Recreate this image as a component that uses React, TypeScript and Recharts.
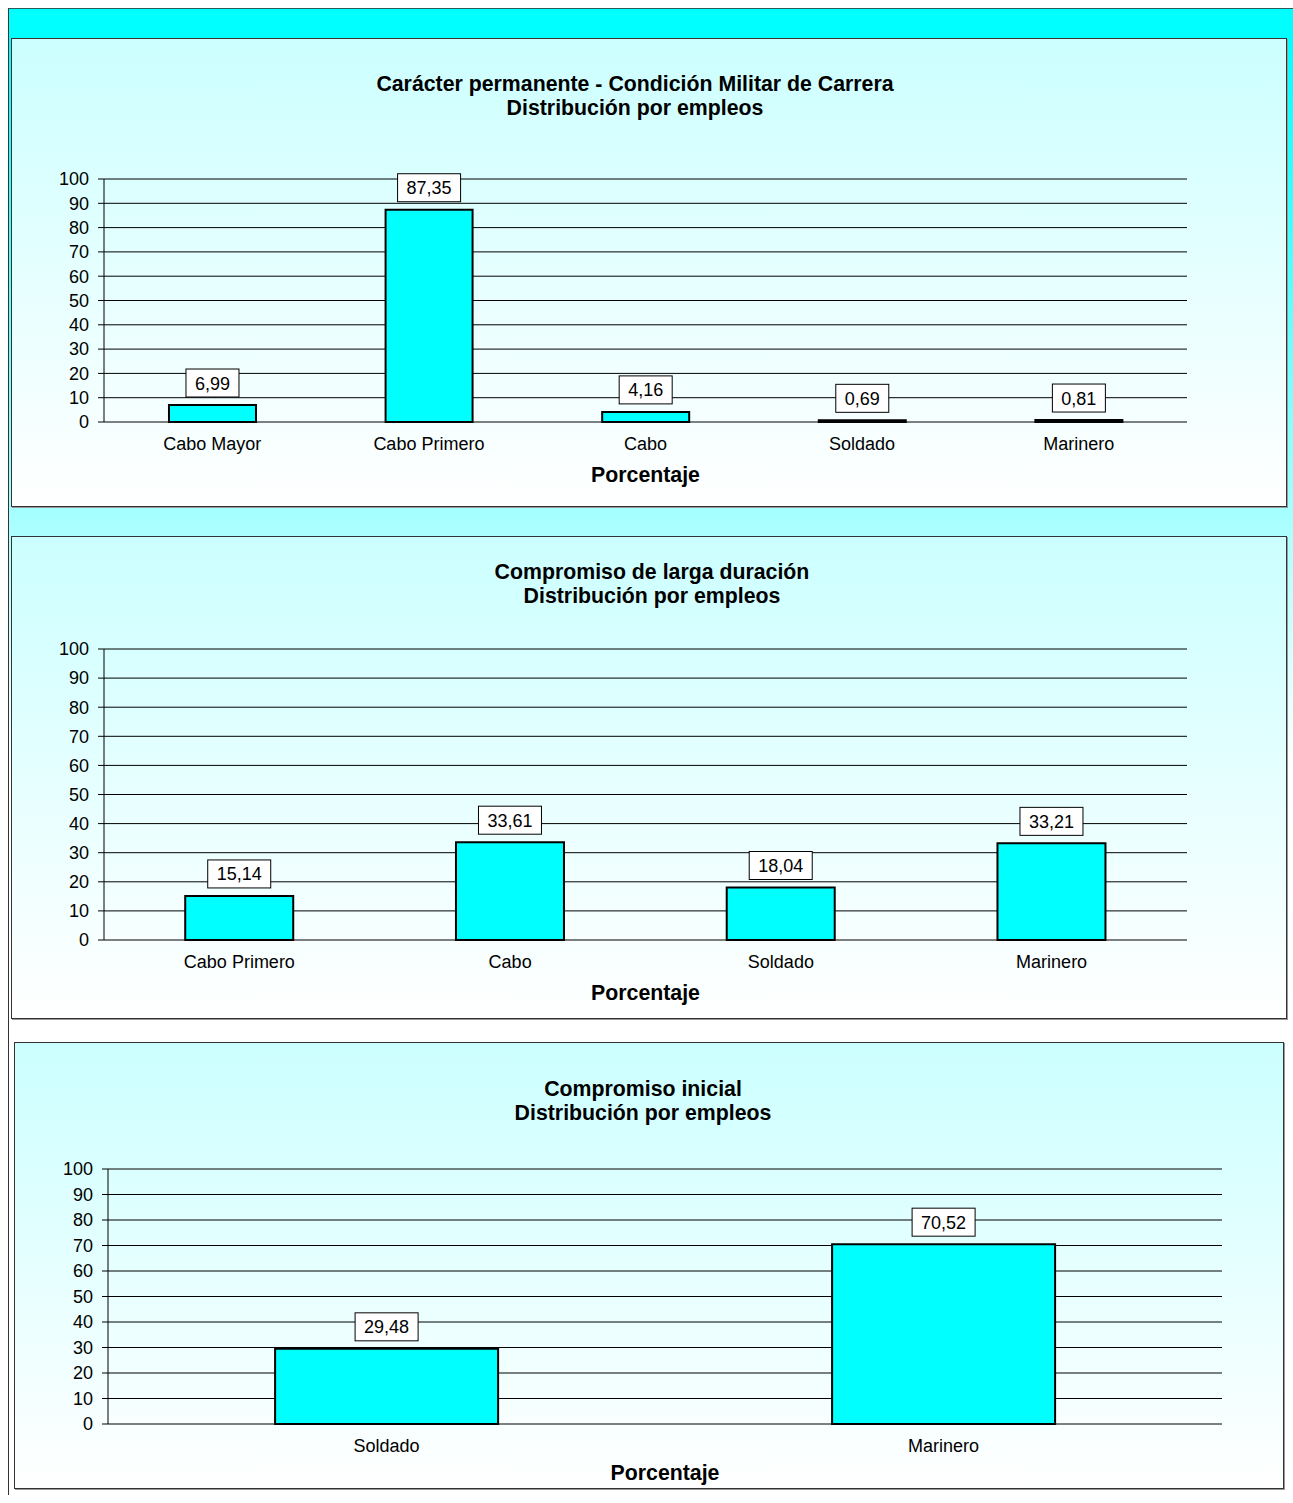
import { Bar, BarChart, CartesianGrid, Label, LabelList, XAxis, YAxis } from 'recharts'

const empleos1 = ['Cabo Mayor', 'Cabo Primero', 'Cabo', 'Soldado', 'Marinero']
const porcentajes1 = [6.99, 87.35, 4.16, 0.69, 0.81]

const empleos2 = ['Cabo Primero', 'Cabo', 'Soldado', 'Marinero']
const porcentajes2 = [15.14, 33.61, 18.04, 33.21]

const empleos3 = ['Soldado', 'Marinero']
const porcentajes3 = [29.48, 70.52]

const yTicks = [0, 10, 20, 30, 40, 50, 60, 70, 80, 90, 100]

const FONT = "'Liberation Sans', Arial, sans-serif"

const fmt = (v: number) => v.toFixed(2).replace('.', ',')

const ValueBox = (props: any) => {
  const { x, y, width, value } = props
  const cx = Number(x) + Number(width) / 2
  const txt = fmt(Number(value))
  const w = txt.length * 10 + 13
  const h = 28
  const top = Number(y) - 8 - h
  return (
    <g>
      <rect x={cx - w / 2} y={top} width={w} height={h} fill='#fff' stroke='#000' strokeWidth={1} />
      <text x={cx} y={top + h / 2 + 6.5} textAnchor='middle' fontSize={18} fill='#000'>
        {txt}
      </text>
    </g>
  )
}

type TPanel = {
  title: string[]
  cats: string[]
  vals: number[]
  left: number
  top: number
  width: number
  height: number
  titleTop: number
  titleCenter: number
  margin: { top: number; right: number; left: number }
  xHeight: number
  labelOffset: number
}

const Panel = (p: TPanel) => {
  const data = p.cats.map((c, i) => ({ name: c, pct: p.vals[i] }))
  const w = p.width - 2
  const h = p.height - 2
  return (
    <div
      style={{
        position: 'absolute',
        left: p.left,
        top: p.top,
        width: p.width,
        height: p.height,
        boxSizing: 'border-box',
        border: '1px solid #333',
        boxShadow: '1px 1px 0 #999',
        background: 'linear-gradient(to bottom, #ccffff, #ffffff)',
      }}
    >
      <div
        style={{
          position: 'absolute',
          left: 0,
          top: p.titleTop,
          width: p.titleCenter * 2,
          textAlign: 'center',
          fontWeight: 'bold',
          fontSize: 21.3,
          lineHeight: '24px',
          color: '#000',
        }}
      >
        {p.title.map((t) => (
          <div key={t}>{t}</div>
        ))}
      </div>
      <div style={{ position: 'absolute', left: 0, top: 0 }}>
        <BarChart
          width={w}
          height={h}
          data={data}
          margin={{ top: p.margin.top, right: p.margin.right, bottom: 0, left: p.margin.left }}
          barCategoryGap='30%'
        >
          <CartesianGrid xAxisId='cat' horizontal vertical={false} stroke='#000' />
          <XAxis
            xAxisId='b'
            type='number'
            domain={[0, p.cats.length]}
            ticks={p.cats.map((_, i) => i).concat([p.cats.length])}
            allowDataOverflow
            interval={0}
            height={0}
            tick={false}
            tickSize={6}
            stroke='#000'
          />
          <XAxis
            xAxisId='cat'
            dataKey='name'
            height={p.xHeight}
            axisLine={false}
            tickLine={false}
            tickSize={0}
            tickMargin={15}
            interval={0}
            tick={{ fill: '#000', fontSize: 18 }}
          >
            <Label
              value='Porcentaje'
              position='insideBottom'
              offset={p.labelOffset}
              style={{ fontWeight: 'bold', fontSize: 21.3, fill: '#000' }}
            />
          </XAxis>
          <YAxis
            domain={[0, 100]}
            ticks={yTicks}
            interval={0}
            width={60}
            tickSize={6}
            tickMargin={9}
            stroke='#000'
            tick={{ fill: '#000', fontSize: 18 }}
          />
          <Bar xAxisId='cat' dataKey='pct' fill='#00ffff' stroke='#000' strokeWidth={2} isAnimationActive={false}>
            <LabelList dataKey='pct' content={ValueBox} />
          </Bar>
        </BarChart>
      </div>
    </div>
  )
}

export default function App() {
  return (
    <div
      style={{
        position: 'absolute',
        left: 8,
        top: 8,
        width: 1285,
        height: 1487,
        overflow: 'hidden',
        fontFamily: FONT,
        boxSizing: 'border-box',
        borderTop: '1px solid #2a5a5a',
        borderLeft: '1px solid #333',
        background: 'linear-gradient(to bottom, #00ffff 0px, #00ffff 30px, #ffffff 760px)',
      }}
    >
      <Panel
        title={['Carácter permanente - Condición Militar de Carrera', 'Distribución por empleos']}
        cats={empleos1}
        vals={porcentajes1}
        left={2}
        top={29}
        width={1276}
        height={469}
        titleTop={33}
        titleCenter={623}
        margin={{ top: 140, right: 99, left: 32 }}
        xHeight={84}
        labelOffset={24}
      />
      <Panel
        title={['Compromiso de larga duración', 'Distribución por empleos']}
        cats={empleos2}
        vals={porcentajes2}
        left={2}
        top={527}
        width={1276}
        height={483}
        titleTop={23}
        titleCenter={640}
        margin={{ top: 112, right: 99, left: 32 }}
        xHeight={78}
        labelOffset={18}
      />
      <Panel
        title={['Compromiso inicial', 'Distribución por empleos']}
        cats={empleos3}
        vals={porcentajes3}
        left={5}
        top={1033}
        width={1270}
        height={447}
        titleTop={34}
        titleCenter={628}
        margin={{ top: 126, right: 61, left: 33 }}
        xHeight={64}
        labelOffset={8}
      />
    </div>
  )
}
